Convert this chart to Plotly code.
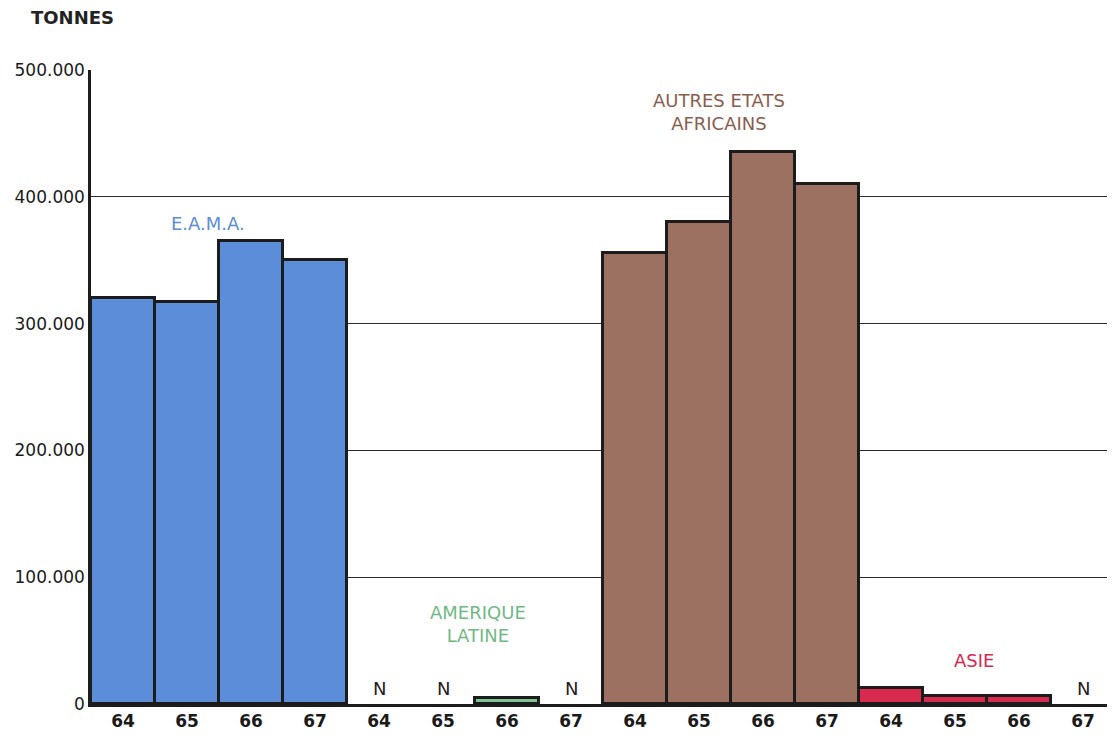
import plotly.graph_objects as go

years = ["64", "65", "66", "67"]
groups = ["E.A.M.A.", "AMERIQUE<br>LATINE", "AUTRES ETATS<br>AFRICAINS", "ASIE"]
eama = [320000, 317000, 365000, 350000]
amerique = [0, 0, 5000, 0]
autres = [356000, 380000, 435000, 410000]
asie = [12500, 6000, 6000, 0]
series = [eama, amerique, autres, asie]
bar_colors = ["#5b8dd9", "#7fc493", "#9c7161", "#d8294f"]
label_colors = ["#5b8dd9", "#6fb985", "#8a5e4e", "#d8294f"]
label_pos = [(1.33, 379000), (5.55, 63000), (9.32, 467000), (13.3, 34000)]
ytick_vals = [0, 100000, 200000, 300000, 400000, 500000]
ytick_text = ["0", "100.000", "200.000", "300.000", "400.000", "500.000"]

fig = go.Figure()
annotations = []
all_x, all_text = [], []
for g, vals in enumerate(series):
    xs = [g * 4 + j for j in range(len(years))]
    all_x += xs
    all_text += ["<b>" + y + "</b>" for y in years]
    fig.add_trace(go.Bar(
        x=xs, y=[v if v > 0 else None for v in vals], width=1,
        marker=dict(color=bar_colors[g], line=dict(color="#1c1c1c", width=3)),
        showlegend=False, hoverinfo="y",
    ))
    for x, v in zip(xs, vals):
        if v == 0:
            annotations.append(dict(x=x, y=0, text="N", showarrow=False, yanchor="bottom",
                                    yshift=3, font=dict(size=18, color="#222", family="DejaVu Sans")))
    lx, ly = label_pos[g]
    annotations.append(dict(x=lx, y=ly, text=groups[g], showarrow=False,
                            font=dict(size=18, color=label_colors[g], family="DejaVu Sans")))

annotations.append(dict(xref="paper", yref="paper", x=-0.061, y=1.083, xanchor="left",
                        yanchor="middle", text="<b>TONNES</b>", showarrow=False,
                        font=dict(size=18, color="#222", family="DejaVu Sans")))

fig.update_layout(
    width=1107, height=729,
    margin=dict(l=83, r=0, t=62, b=33),
    paper_bgcolor="white", plot_bgcolor="white",
    bargap=0,
    annotations=annotations,
    xaxis=dict(range=[-0.5, 15.5], tickmode="array", tickvals=all_x, ticktext=all_text,
               showgrid=False, showline=True, linecolor="#1c1c1c", linewidth=3,
               tickfont=dict(size=17, color="#1a1a1a", family="DejaVu Sans"), ticks="",
               zeroline=False, fixedrange=True),
    yaxis=dict(range=[0, 500000], tickmode="array", tickvals=ytick_vals, ticktext=ytick_text,
               showgrid=True, gridcolor="#2a2a2a", gridwidth=1.2,
               showline=True, linecolor="#1c1c1c", linewidth=2.5,
               tickfont=dict(size=17, color="#1a1a1a", family="DejaVu Sans"), ticks="",
               zeroline=False, fixedrange=True),
)

fig.write_html("out.html")
